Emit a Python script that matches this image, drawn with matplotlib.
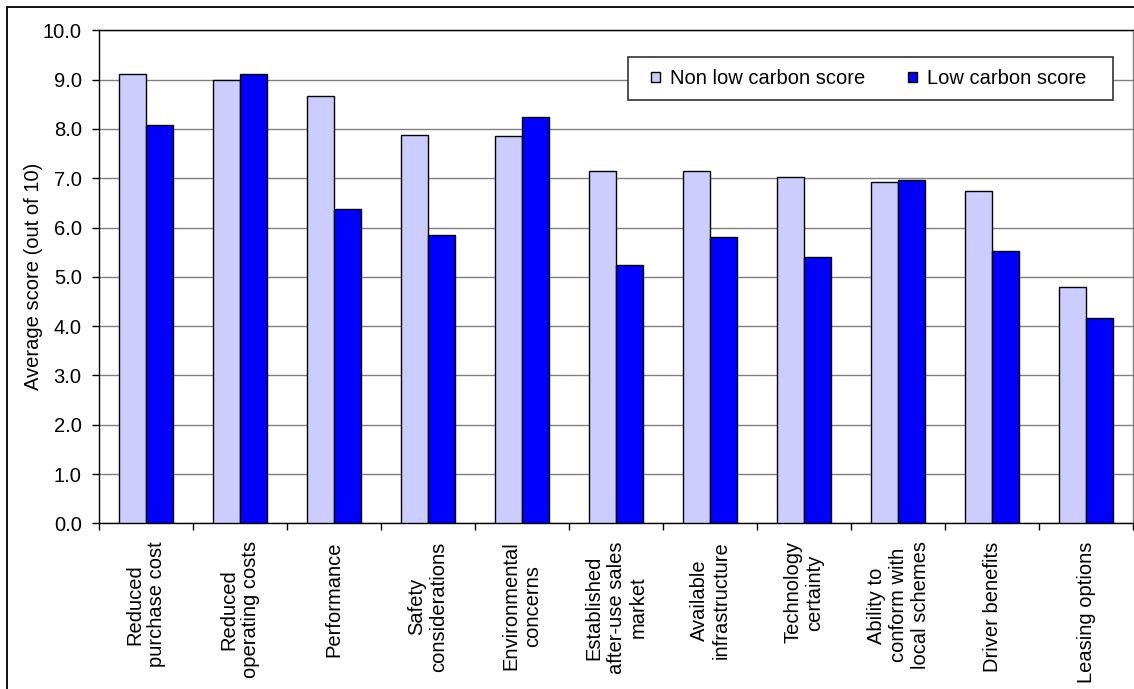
import matplotlib
matplotlib.use("Agg")
import matplotlib.pyplot as plt
import numpy as np
from matplotlib.patches import Rectangle, Patch

plt.rcParams['font.family'] = ['Liberation Sans', 'DejaVu Sans']

categories = ["Reduced\npurchase cost", "Reduced\noperating costs", "Performance",
              "Safety\nconsiderations", "Environmental\nconcerns",
              "Established\nafter-use sales\nmarket", "Available\ninfrastructure",
              "Technology\ncertainty", "Ability to\nconform with\nlocal schemes",
              "Driver benefits", "Leasing options"]
non_low_carbon = [9.12, 8.99, 8.66, 7.87, 7.85, 7.15, 7.15, 7.03, 6.93, 6.74, 4.80]
low_carbon = [8.07, 9.12, 6.37, 5.85, 8.24, 5.23, 5.81, 5.40, 6.97, 5.52, 4.16]
series_names = ["Non low carbon score", "Low carbon score"]
y_ticks = [0.0, 1.0, 2.0, 3.0, 4.0, 5.0, 6.0, 7.0, 8.0, 9.0, 10.0]

W, H = 1134, 689
fig = plt.figure(figsize=(W / 100, H / 100), dpi=100)
L, R, T, B = 99, 1133, 30.3, 523.3
ax = fig.add_axes([L / W, 1 - B / H, (R - L) / W, (B - T) / H])

FS = 14.5
n = len(categories)
x = np.arange(n)
bw = 1 / 3.5
c_non = '#CCCCFF'
c_low = '#0000FF'
ax.bar(x - bw / 2, non_low_carbon, bw, color=c_non, edgecolor='black', linewidth=1.0, zorder=3)
ax.bar(x + bw / 2, low_carbon, bw, color=c_low, edgecolor='black', linewidth=1.0, zorder=3)

ax.set_xlim(-0.5, n - 0.5)
ax.set_ylim(0, 10)
ax.set_yticks(y_ticks)
ax.set_yticklabels([f"{v:.1f}" for v in y_ticks], fontsize=FS)
ax.yaxis.grid(True, color='#808080', linewidth=1.0, zorder=0)
ax.set_axisbelow(True)

# x ticks at category boundaries, labels at centers
ax.set_xticks(np.arange(n + 1) - 0.5)
ax.set_xticklabels([''] * (n + 1))
ax.set_xticks(x, minor=True)
ax.set_xticklabels(categories, minor=True, rotation=90, fontsize=FS,
                   ha='center', va='top', multialignment='center')
ax.tick_params(axis='x', which='minor', length=0, pad=13)
ax.tick_params(axis='x', which='major', length=5.3, width=1, direction='out', color='black')
ax.tick_params(axis='y', length=5.3, width=1, direction='out', pad=7.2, color='black')

for s in ['left', 'bottom', 'top']:
    ax.spines[s].set_color('black')
    ax.spines[s].set_linewidth(1.0)
ax.spines['right'].set_color('#808080')
ax.spines['right'].set_linewidth(1.0)

ax.set_ylabel("Average score (out of 10)", fontsize=FS)
ax.yaxis.set_label_coords((43 - L) / (R - L), 0.5)

# legend
handles = [Patch(facecolor=c_non, edgecolor='black', linewidth=1.0),
           Patch(facecolor=c_low, edgecolor='black', linewidth=1.0)]
leg = fig.legend(handles, series_names, ncol=2, frameon=False, fontsize=FS,
                 loc='center left', bbox_to_anchor=(651 / W, 1 - 78.5 / H),
                 borderpad=0, borderaxespad=0, handlelength=0.45, handleheight=0.42,
                 handletextpad=0.5, columnspacing=2.1)
fig.add_artist(Rectangle((628 / W, 1 - 100 / H), (1113 - 628) / W, (100 - 57) / H,
                         transform=fig.transFigure, facecolor='white', edgecolor='#333333',
                         linewidth=1.2, zorder=2))
leg.set_zorder(5)

# outer border
fig.add_artist(Rectangle((7.3 / W, -0.05), 1.2, 1 - 7.3 / H + 0.05,
                         transform=fig.transFigure, facecolor='none', edgecolor='black',
                         linewidth=1.3, clip_on=False))

fig.savefig("out.png", dpi=100, facecolor='white')
